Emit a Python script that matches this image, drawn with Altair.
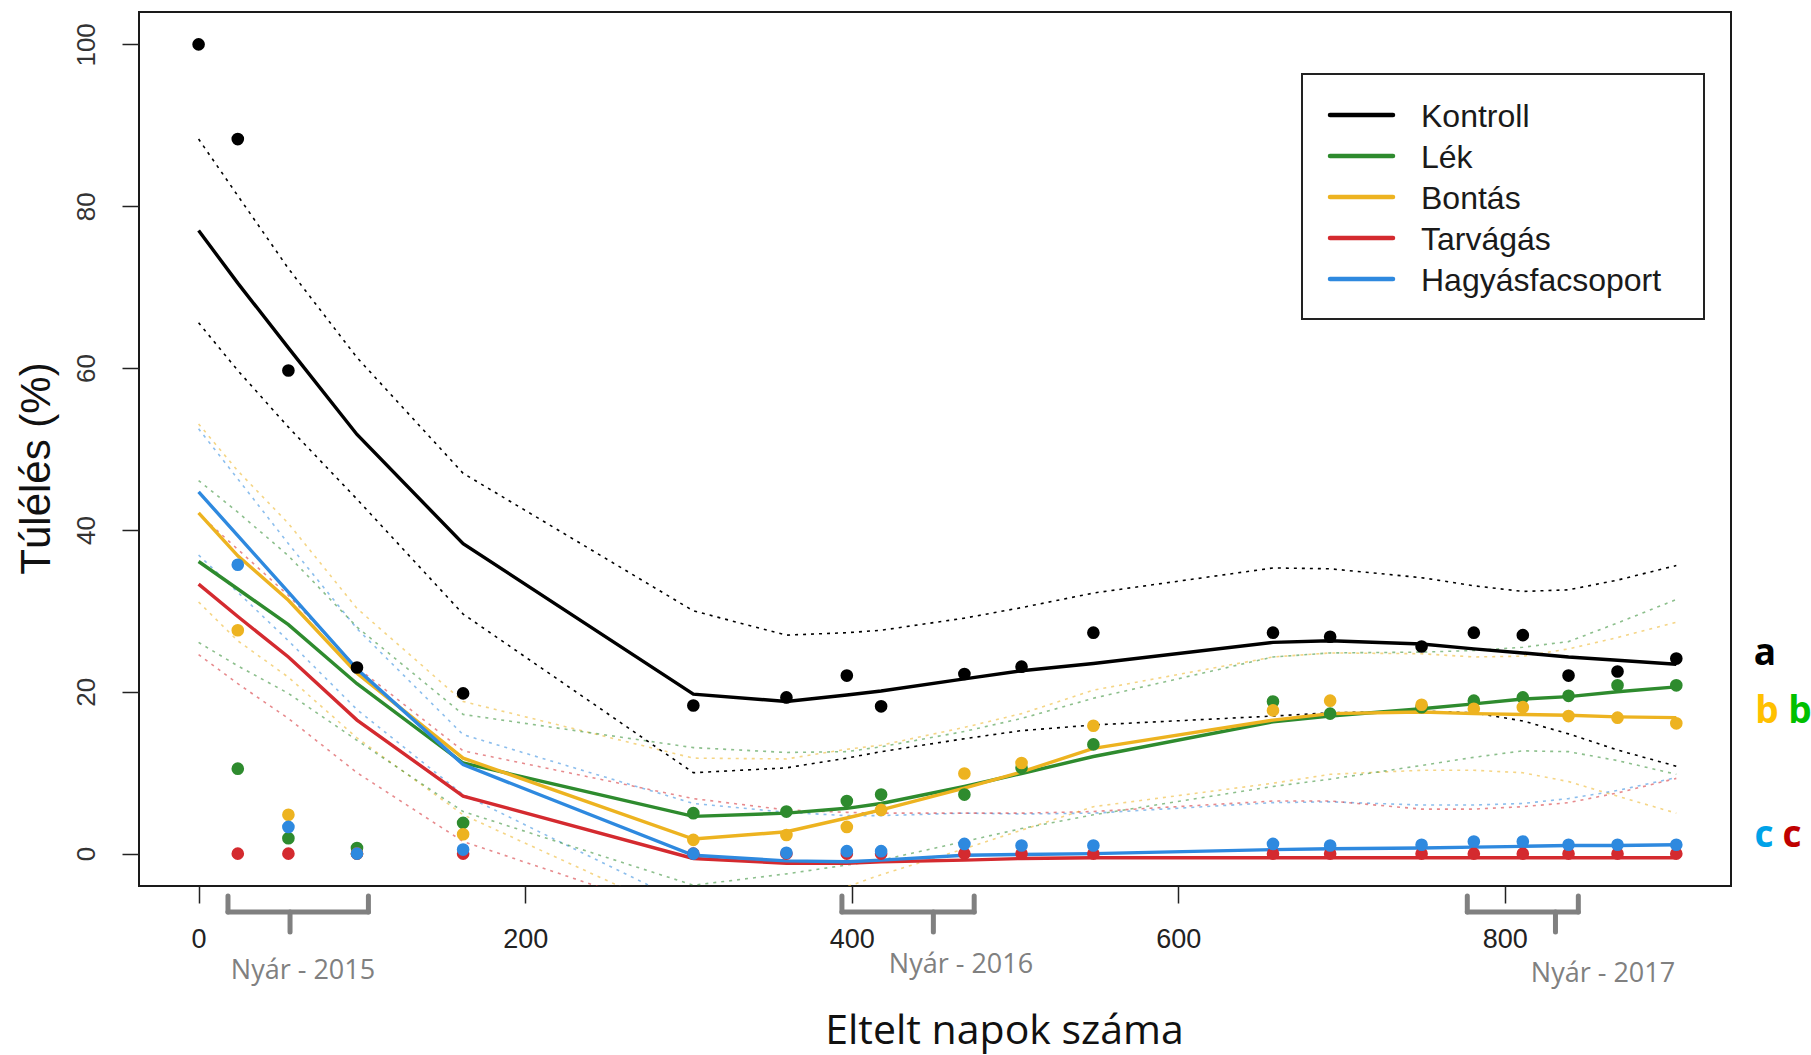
import altair as alt
import pandas as pd

# Survey days (days elapsed since planting)
days = [0, 24, 55, 97, 162, 303, 360, 397, 418, 469, 504, 548, 658, 693, 749, 781, 811, 839, 869, 905]

groups = ["Kontroll", "Lék", "Bontás", "Tarvágás", "Hagyásfacsoport"]
group_colors = ["#000000", "#2E8B2E", "#EDB320", "#D42A2F", "#2E89DF"]

# Observed survival (%) per treatment; None = not surveyed on that day
obs_kontroll = [100, 88.3, 59.7, 23.0, 19.8, 18.3, 19.3, 22.0, 18.2, 22.2, 23.1, 27.3, 27.3, 26.8, 25.6, 27.3, 27.0, 22.0, 22.5, 24.1]
obs_lek = [None, 10.5, 1.9, 0.7, 3.8, 5.0, 5.2, 6.5, 7.3, 7.3, 10.6, 13.5, 18.8, 17.3, 18.1, 18.9, 19.3, 19.5, 20.8, 20.8]
obs_bontas = [None, 27.6, 4.8, 0.0, 2.4, 1.7, 2.3, 3.3, 5.4, 9.9, 11.2, 15.8, 17.7, 18.9, 18.4, 17.9, 18.1, 17.0, 16.8, 16.1]
obs_tarvagas = [None, 0, 0, 0, 0, 0, 0, 0, 0, 0, 0, 0, 0, 0, 0, 0, 0, 0, 0, 0]
obs_hagyas = [None, 35.7, 3.3, 0.0, 0.5, 0.0, 0.1, 0.3, 0.3, 1.2, 1.0, 1.0, 1.2, 1.0, 1.1, 1.5, 1.5, 1.1, 1.1, 1.1]

# Smoothed model fit
fit_kontroll = [77.0, 70.5, 62.5, 51.8, 38.3, 19.7, 18.8, 19.6, 20.1, 21.6, 22.6, 23.5, 26.1, 26.3, 25.9, 25.3, 24.8, 24.3, 23.9, 23.4]
fit_lek = [36.1, 32.7, 28.3, 21.0, 11.2, 4.6, 5.0, 5.6, 6.2, 8.3, 9.9, 12.0, 16.3, 17.0, 17.9, 18.5, 19.1, 19.4, 20.0, 20.6]
fit_bontas = [42.1, 36.8, 31.3, 22.3, 11.8, 1.8, 2.7, 4.4, 5.4, 8.1, 10.1, 13.0, 16.5, 17.3, 17.5, 17.3, 17.2, 17.1, 16.9, 16.8]
fit_tarvagas = [33.3, 29.3, 24.3, 16.5, 7.1, -0.6, -1.2, -1.2, -1.0, -0.8, -0.6, -0.5, -0.5, -0.5, -0.5, -0.5, -0.5, -0.5, -0.5, -0.5]
fit_hagyas = [44.7, 39.3, 32.3, 22.8, 11.0, -0.2, -0.9, -1.0, -0.8, -0.2, -0.1, 0.0, 0.5, 0.6, 0.7, 0.8, 0.9, 1.0, 1.0, 1.1]

# Upper confidence limit
hi_kontroll = [88.3, 81.3, 72.3, 61.3, 47.0, 30.0, 27.0, 27.3, 27.6, 29.1, 30.4, 32.2, 35.3, 35.2, 34.1, 33.1, 32.4, 32.6, 33.8, 35.6]
hi_lek = [46.1, 42.2, 36.8, 28.0, 17.2, 13.1, 12.5, 12.6, 13.2, 15.1, 16.7, 19.2, 24.3, 24.8, 24.9, 25.1, 25.5, 26.2, 28.5, 31.4]
hi_bontas = [53.1, 47.3, 40.8, 30.3, 18.8, 11.8, 11.7, 12.9, 13.4, 15.6, 17.3, 20.2, 24.3, 24.8, 24.7, 24.3, 24.4, 25.3, 26.7, 28.6]
hi_tarvagas = [42.0, 37.6, 31.9, 23.0, 12.7, 6.8, 5.4, 5.1, 5.0, 5.0, 5.0, 5.2, 6.5, 6.5, 5.5, 5.5, 5.8, 6.3, 7.5, 9.3]
hi_hagyas = [52.5, 46.3, 38.3, 27.8, 14.7, 6.2, 5.1, 4.7, 4.7, 5.0, 4.9, 5.0, 6.3, 6.4, 6.0, 6.0, 6.2, 6.8, 7.8, 9.4]

# Lower confidence limit
lo_kontroll = [65.6, 59.7, 52.7, 43.8, 29.6, 10.0, 10.6, 11.8, 12.6, 14.2, 15.2, 15.9, 17.0, 17.4, 17.6, 17.4, 16.4, 14.8, 12.8, 10.8]
lo_lek = [26.1, 23.2, 19.8, 14.0, 5.2, -3.9, -2.5, -1.4, -0.8, 1.5, 3.1, 4.8, 8.3, 9.2, 10.9, 11.9, 12.7, 12.6, 11.5, 9.8]
lo_bontas = [31.1, 26.3, 21.8, 14.3, 4.8, -8.2, -6.3, -4.1, -2.6, 0.6, 2.9, 5.8, 8.7, 9.8, 10.3, 10.3, 10.0, 8.9, 7.1, 5.0]
lo_tarvagas = [24.6, 21.0, 16.7, 10.0, 1.5, -8.0, -7.8, -7.5, -7.0, -6.6, -6.2, -6.2, -7.5, -7.5, -6.5, -6.5, -6.8, -7.3, -8.5, -10.3]
lo_hagyas = [36.9, 32.3, 26.3, 17.8, 7.3, -6.6, -6.9, -6.7, -6.3, -5.4, -5.1, -5.0, -5.3, -5.2, -4.6, -4.4, -4.4, -4.8, -5.8, -7.2]

# Summer periods marked under the time axis
summer_labels = ["Nyár - 2015", "Nyár - 2016", "Nyár - 2017"]
summer_start = [18, 394, 777]
summer_end = [104, 475, 845]
summer_mid = [56, 450, 831]

# Significance groups shown at the right edge
sig_letters = ["a", "b", "b", "c", "c"]
sig_colors = ["#000000", "#FFC000", "#00C000", "#00A2E8", "#C00000"]

obs = [obs_kontroll, obs_lek, obs_bontas, obs_tarvagas, obs_hagyas]
fit = [fit_kontroll, fit_lek, fit_bontas, fit_tarvagas, fit_hagyas]
hi = [hi_kontroll, hi_lek, hi_bontas, hi_tarvagas, hi_hagyas]
lo = [lo_kontroll, lo_lek, lo_bontas, lo_tarvagas, lo_hagyas]

rows = []
for g, o_s, f_s, h_s, l_s in zip(groups, obs, fit, hi, lo):
    for d, o, f, h, l in zip(days, o_s, f_s, h_s, l_s):
        rows.append({"group": g, "day": d, "obs": o, "fit": f, "hi": h, "lo": l})
df = pd.DataFrame(rows)

summers = pd.DataFrame({"label": summer_labels, "start": summer_start,
                        "end": summer_end, "mid": summer_mid})

W, H = 1592, 874
x_scale = alt.Scale(domain=[-36.5, 938.5], nice=False, zero=False)
y_scale = alt.Scale(domain=[-4, 104], nice=False, zero=False)

x_axis = alt.Axis(values=[0, 200, 400, 600, 800], format="d", title="Eltelt napok száma",
                  domain=False, grid=False, tickSize=17, tickWidth=1.5, tickColor="#222",
                  labelFont="Liberation Sans", labelFontSize=27, labelColor="#222",
                  labelPadding=23, labelFlush=False, labelBaseline="top",
                  titleFont="Open Sans", titleFontSize=41, titleFontWeight="normal",
                  titleColor="#111", titleX=865, titleY=157, titleAlign="center",
                  titleBaseline="alphabetic")
y_axis = alt.Axis(values=[0, 20, 40, 60, 80, 100], format="d", title="Túlélés (%)",
                  domain=False, grid=False, tickSize=17, tickWidth=1.5, tickColor="#222",
                  labelFont="Liberation Sans", labelFontSize=26, labelColor="#333",
                  labelAngle=270, labelAlign="center", labelBaseline="bottom",
                  labelPadding=23, labelFlush=False,
                  titleFont="Liberation Sans", titleFontSize=42, titleFontWeight="normal",
                  titleColor="#111", titleAngle=270, titleX=-103, titleY=456,
                  titleAlign="center", titleBaseline="middle")


def xy(field):
    return dict(x=alt.X("day:Q", scale=x_scale, axis=x_axis),
                y=alt.Y(f"{field}:Q", scale=y_scale, axis=y_axis))


layers = []

# Confidence limits (dotted)
for g, c in list(zip(groups, group_colors))[::-1]:
    op = 1.0 if g == "Kontroll" else 0.55
    part = alt.Chart(df).transform_filter(alt.datum.group == g)
    for field in ["hi", "lo"]:
        layers.append(part.mark_line(color=c, strokeWidth=1.6, strokeDash=[3, 5],
                                     opacity=op, clip=True).encode(**xy(field)))

# Fitted curves
for g, c in zip(groups, group_colors):
    part = alt.Chart(df).transform_filter(alt.datum.group == g)
    layers.append(part.mark_line(color=c, strokeWidth=3.4, clip=True).encode(**xy("fit")))

# Observations
for g, c in zip(groups, group_colors):
    part = alt.Chart(df).transform_filter(alt.datum.group == g).transform_filter("isValid(datum.obs)")
    layers.append(part.mark_circle(color=c, size=160, opacity=1).encode(**xy("obs")))

# Legend box
one = pd.DataFrame({"k": [0]})
layers.append(alt.Chart(one).mark_rect(fill="white", stroke="#222", strokeWidth=2).encode(
    x=alt.value(1163), x2=alt.value(1565), y=alt.value(62), y2=alt.value(307)))
for i, (g, c) in enumerate(zip(groups, group_colors)):
    ry = 103 + 41 * i
    layers.append(alt.Chart(one).mark_rule(color=c, strokeWidth=4.5, strokeCap="round").encode(
        x=alt.value(1191), x2=alt.value(1254), y=alt.value(ry)))
    layers.append(alt.Chart(one).mark_text(text=g, font="Liberation Sans", fontSize=32,
                                           color="#1a1a1a", align="left", baseline="middle").encode(
        x=alt.value(1282), y=alt.value(ry + 2)))

# Significance letters
letter_pos = [(1626, 653), (1628, 711), (1661, 711), (1625, 835), (1653, 835)]
for (lx, ly), t, c in zip(letter_pos, sig_letters, sig_colors):
    layers.append(alt.Chart(one).mark_text(text=t, font="Open Sans", fontSize=37, fontWeight="bold",
                                           color=c, align="center", baseline="alphabetic").encode(
        x=alt.value(lx), y=alt.value(ly)))

# Summer brackets under the time axis
grey = "#808080"
bx = alt.X("start:Q", scale=x_scale, axis=x_axis)
layers.append(alt.Chart(summers).mark_rule(color=grey, strokeWidth=5, strokeCap="round").encode(
    x=bx, x2="end:Q", y=alt.value(900)))
layers.append(alt.Chart(summers).mark_rule(color=grey, strokeWidth=5, strokeCap="round").encode(
    x=bx, y=alt.value(884), y2=alt.value(900)))
layers.append(alt.Chart(summers).mark_rule(color=grey, strokeWidth=5, strokeCap="round").encode(
    x=alt.X("end:Q", scale=x_scale, axis=x_axis), y=alt.value(884), y2=alt.value(900)))
layers.append(alt.Chart(summers).mark_rule(color=grey, strokeWidth=5, strokeCap="round").encode(
    x=alt.X("mid:Q", scale=x_scale, axis=x_axis), y=alt.value(900), y2=alt.value(920)))

summer_text_pos = [(164, 967), (822, 961), (1464, 970)]
for (tx, ty), lab in zip(summer_text_pos, summer_labels):
    layers.append(alt.Chart(one).mark_text(text=lab, font="Open Sans", fontSize=27, color=grey,
                                           align="center", baseline="alphabetic").encode(
        x=alt.value(tx), y=alt.value(ty)))

chart = alt.layer(*layers).properties(
    width=W, height=H,
    padding={"left": 139, "top": 12, "right": 80, "bottom": 169},
    autosize=alt.AutoSizeParams(type="none"),
    background="white",
).configure_view(stroke="#1a1a1a", strokeWidth=2)

chart.save("out.html", embed_options={"renderer": "svg", "actions": False})
